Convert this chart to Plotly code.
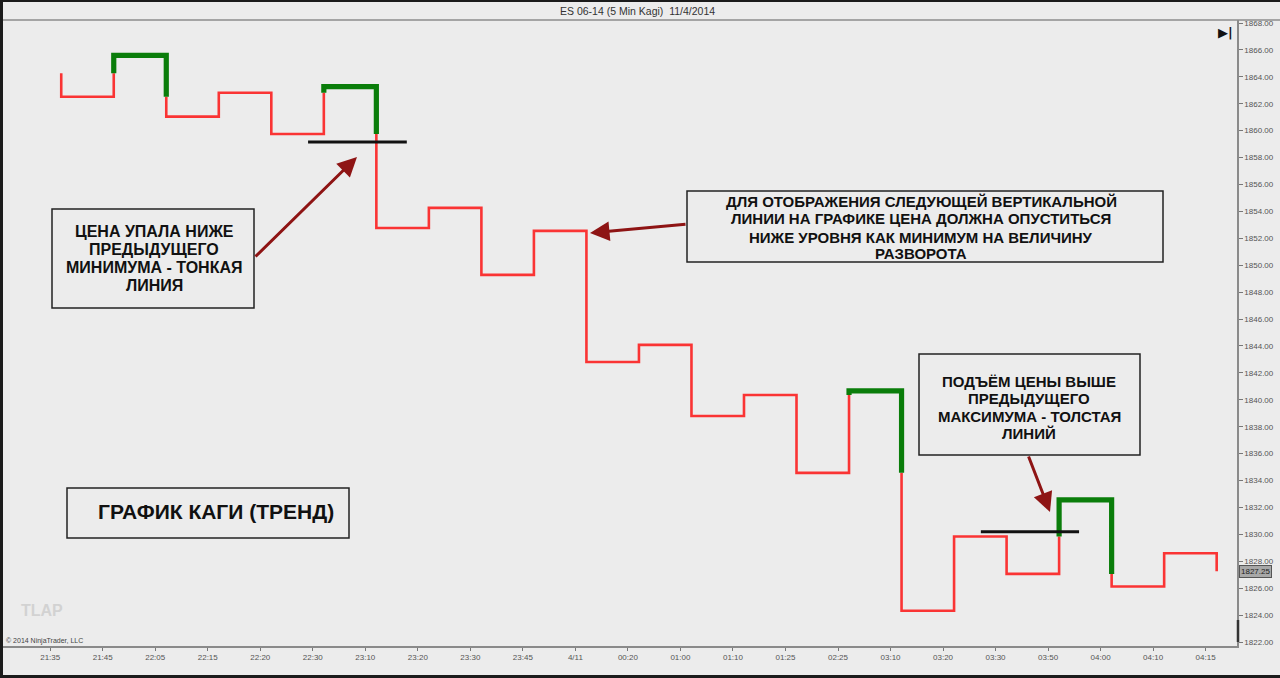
import plotly.graph_objects as go

# ---------------- data ----------------
time_labels = ["21:35", "21:45", "22:05", "22:15", "22:20", "22:30", "23:10", "23:20",
               "23:30", "23:45", "4/11", "00:20", "01:00", "01:10", "01:25", "02:25",
               "03:10", "03:20", "03:30", "03:50", "04:00", "04:10", "04:15"]

# Kagi reversal prices (start + end of every vertical)
kagi_prices = [1864.26, 1862.52, 1865.59, 1861.04, 1862.82, 1859.75, 1863.27, 1852.77,
               1854.26, 1849.28, 1852.55, 1842.81, 1844.08, 1838.80, 1840.36, 1834.57,
               1840.66, 1824.32, 1829.84, 1827.06, 1832.56, 1826.12, 1828.60, 1827.25]

last_price = 1827.25

# reference levels (black lines): price, start index, end index
level_prices = [1859.15, 1830.20]
level_start = [4.91, 17.72]
level_end = [6.79, 19.59]

y_ticks = list(range(1822, 1869, 2))

note1_lines = ["ЦЕНА УПАЛА НИЖЕ", "ПРЕДЫДУЩЕГО", "МИНИМУМА - ТОНКАЯ", "ЛИНИЯ"]
note2_lines = ["ДЛЯ ОТОБРАЖЕНИЯ СЛЕДУЮЩЕЙ ВЕРТИКАЛЬНОЙ", "ЛИНИИ НА ГРАФИКЕ ЦЕНА ДОЛЖНА ОПУСТИТЬСЯ",
               "НИЖЕ УРОВНЯ КАК МИНИМУМ НА ВЕЛИЧИНУ", "РАЗВОРОТА"]
note3_lines = ["ПОДЪЁМ ЦЕНЫ ВЫШЕ", "ПРЕДЫДУЩЕГО", "МАКСИМУМА - ТОЛСТАЯ", "ЛИНИЙ"]
chart_title = "ГРАФИК КАГИ (ТРЕНД)"

# ---------------- geometry helpers ----------------
W, H = 1280, 678
ML, MR, MT, MB = 3, 43, 20, 32
PW, PH = W - ML - MR, H - MT - MB


def px(x):
    return (x - ML) / PW


def py(y):
    return (H - MB - y) / PH


OFF = 0.21
RED = "#fa3434"
GREEN = "#0a7d0a"
BG = "#ececec"
FONT = "Liberation Sans, Arial, sans-serif"

# ---------------- build kagi segments ----------------
segments = []  # (x0, y0, x1, y1, thick)
thick = False
n = len(kagi_prices)
for k in range(n - 1):
    x = k + OFF
    a, b = kagi_prices[k], kagi_prices[k + 1]
    if b > a and not thick and k >= 1 and b > kagi_prices[k - 1]:
        m = kagi_prices[k - 1]
        segments.append((x, a, x, m, False))
        segments.append((x, m, x, b, True))
        thick = True
    elif b < a and thick and k >= 1 and b < kagi_prices[k - 1]:
        m = kagi_prices[k - 1]
        segments.append((x, a, x, m, True))
        segments.append((x, m, x, b, False))
        thick = False
    else:
        segments.append((x, a, x, b, thick))
    if k < n - 2:
        segments.append((x, b, x + 1, b, thick))

runs = []
for s in segments:
    if runs and runs[-1][0] == s[4]:
        runs[-1][1].append(s[2])
        runs[-1][2].append(s[3])
    else:
        runs.append([s[4], [s[0], s[2]], [s[1], s[3]]])

thin_x, thin_y, thick_x, thick_y = [], [], [], []
for t, xs, ys in runs:
    if t:
        thick_x += xs + [None]
        thick_y += ys + [None]
    else:
        thin_x += xs + [None]
        thin_y += ys + [None]

fig = go.Figure()
fig.add_trace(go.Scatter(x=thin_x, y=thin_y, mode="lines",
                         line=dict(color=RED, width=2.6), hoverinfo="skip"))
fig.add_trace(go.Scatter(x=thick_x, y=thick_y, mode="lines",
                         line=dict(color=GREEN, width=5.2), hoverinfo="skip"))

for lp, ls, le in zip(level_prices, level_start, level_end):
    fig.add_trace(go.Scatter(x=[ls, le], y=[lp, lp], mode="lines",
                             line=dict(color="#111111", width=3), hoverinfo="skip"))

x_min = (ML - 50.2) / 52.52
x_max = (W - MR - 50.2) / 52.52

fig.update_layout(
    width=W, height=H,
    margin=dict(l=ML, r=MR, t=MT, b=MB),
    paper_bgcolor=BG, plot_bgcolor=BG,
    showlegend=False,
    font=dict(family=FONT, color="#333"),
    xaxis=dict(range=[x_min, x_max], tickmode="array",
               tickvals=list(range(len(time_labels))), ticktext=time_labels,
               showgrid=False, zeroline=False, showline=True, linecolor="#8a8a8a",
               linewidth=1.5, ticks="outside", ticklen=3, tickcolor="#777",
               tickfont=dict(size=8, color="#555", family=FONT)),
    yaxis=dict(range=[1822 - 4 / 13.46, 1868 + 3 / 13.46], side="right",
               tickmode="array", tickvals=y_ticks,
               ticktext=[f"{v:.2f}" for v in y_ticks],
               showgrid=False, zeroline=False, showline=True, linecolor="#8a8a8a",
               linewidth=1.5, ticks="outside", ticklen=4, tickcolor="#777",
               tickfont=dict(size=8, color="#555", family=FONT)),
)

shapes = []
# outer frame
shapes.append(dict(type="rect", xref="paper", yref="paper", x0=px(0), x1=px(3),
                   y0=py(678), y1=py(0), fillcolor="#1b1b1b", line=dict(width=0), layer="above"))
shapes.append(dict(type="rect", xref="paper", yref="paper", x0=px(0), x1=px(1280),
                   y0=py(2), y1=py(0), fillcolor="#1b1b1b", line=dict(width=0), layer="above"))
shapes.append(dict(type="rect", xref="paper", yref="paper", x0=px(0), x1=px(1280),
                   y0=py(678), y1=py(675), fillcolor="#1b1b1b", line=dict(width=0), layer="above"))
# title bar separator
shapes.append(dict(type="line", xref="paper", yref="paper", x0=px(3), x1=px(1280),
                   y0=py(20), y1=py(20), line=dict(color="#8c8c8c", width=1.5)))
# darker axis segment near bottom right
shapes.append(dict(type="line", xref="paper", yref="paper", x0=px(1238), x1=px(1238),
                   y0=py(620), y1=py(642), line=dict(color="#333", width=2.5)))

# annotation boxes
boxes = [(52, 209, 254, 308), (687, 191, 1163, 262), (919, 354, 1140, 455), (67, 488, 349, 538)]
for x0, y0, x1, y1 in boxes:
    shapes.append(dict(type="rect", xref="paper", yref="paper", x0=px(x0), x1=px(x1),
                       y0=py(y1), y1=py(y0), line=dict(color="#222", width=1.5),
                       fillcolor="rgba(0,0,0,0)"))
fig.update_layout(shapes=shapes)


def label(x, y, text, size, color="#111", family=FONT, xanchor="center"):
    return dict(xref="paper", yref="paper", x=px(x), y=py(y), text=text, showarrow=False,
                xanchor=xanchor, yanchor="middle",
                font=dict(size=size, color=color, family=family))


ann = []
ann.append(label(637, 11, "ES 06-14 (5 Min Kagi)  11/4/2014", 10.5, "#333"))
for lines, cx, ys, size in [(note1_lines, 154, [231, 249, 267, 285], 16),
                            (note2_lines, 921, [201, 219, 237, 254], 15),
                            (note3_lines, 1029, [381, 398, 416, 433], 15)]:
    for line, yy in zip(lines, ys):
        ann.append(label(cx, yy, f"<b>{line}</b>", size))
ann.append(label(216, 511, f"<b>{chart_title}</b>", 21))
# arrows
for hx, hy, tx, ty in [(357, 157, 254, 258), (590, 233, 687, 224), (1050, 512, 1028, 455)]:
    ann.append(dict(xref="paper", yref="paper", x=px(hx), y=py(hy), ax=tx - hx, ay=ty - hy,
                    text="", showarrow=True, arrowhead=2, arrowsize=1.3, arrowwidth=3,
                    arrowcolor="#8e1414"))
# watermark / copyright / icon
ann.append(label(19, 610, "<b>TLAP</b>", 16, "#d2d2d2", xanchor="left"))
ann.append(label(4, 641, "© 2014 NinjaTrader, LLC", 7, "#444", xanchor="left"))
ann.append(label(1225, 33, "<b>▶|</b>", 13, "#111", family="DejaVu Sans"))
# last price marker
ann.append(dict(xref="paper", yref="y", x=px(1239), y=last_price, xanchor="left", yanchor="middle",
                text=f"{last_price:.2f}", showarrow=False, bgcolor="#a8a8a8",
                bordercolor="#555", borderwidth=1, borderpad=1,
                font=dict(size=8, color="#222", family=FONT)))
fig.update_layout(annotations=ann)

fig.write_html("out.html")
